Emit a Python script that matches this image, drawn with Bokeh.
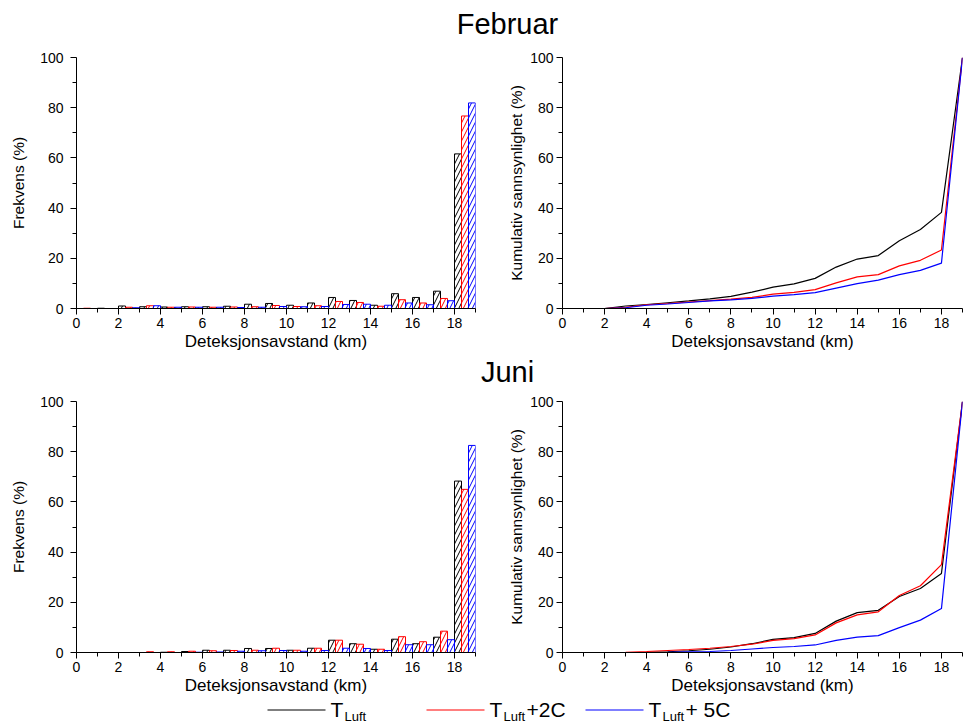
from bokeh.plotting import figure
from bokeh.layouts import column, row
from bokeh.models import Range1d, FixedTicker
from bokeh.embed import file_html
from bokeh.resources import INLINE
from bokeh.core.properties import value

FONT = "Liberation Sans"

# ---------------- data ----------------
bins = list(range(19))          # bin k covers [k, k+1) km
cum_x = list(range(1, 20))      # cumulative curve points

feb_luft = [0.0, 0.1, 1.0, 0.7, 0.6, 0.7, 0.7, 0.9, 1.7, 2.0, 1.3, 2.2, 4.4, 3.2, 1.3, 5.9, 4.4, 6.9, 61.6]
feb_luft2 = [0.1, 0.0, 0.5, 1.1, 0.5, 0.6, 0.5, 0.6, 0.7, 1.2, 0.8, 1.1, 2.8, 2.4, 0.9, 3.5, 2.2, 4.0, 76.7]
feb_luft5 = [0.0, 0.0, 0.3, 1.1, 0.5, 0.5, 0.5, 0.4, 0.5, 0.8, 0.7, 0.8, 1.6, 1.7, 1.3, 2.2, 1.5, 3.1, 81.9]

jun_luft = [0.0, 0.0, 0.0, 0.0, 0.1, 0.4, 0.9, 0.9, 1.6, 1.6, 0.9, 1.7, 4.9, 3.5, 1.3, 5.3, 3.5, 6.1, 68.3]
jun_luft2 = [0.0, 0.0, 0.0, 0.3, 0.3, 0.5, 0.7, 0.8, 0.9, 1.7, 0.9, 1.7, 4.9, 3.3, 1.3, 6.3, 4.3, 8.5, 65.0]
jun_luft5 = [0.0, 0.0, 0.0, 0.0, 0.0, 0.1, 0.2, 0.5, 0.7, 0.8, 0.5, 0.8, 1.7, 1.6, 0.8, 3.1, 3.1, 5.1, 82.5]

feb_cum_luft = [0.0, 0.0, 1.0, 1.6, 2.3, 3.0, 3.8, 4.8, 6.5, 8.5, 9.8, 12.0, 16.5, 19.7, 21.1, 27.0, 31.5, 38.3, 100.0]
feb_cum_luft2 = [0.0, 0.0, 0.5, 1.5, 2.0, 2.6, 3.1, 3.7, 4.4, 5.7, 6.4, 7.5, 10.2, 12.6, 13.5, 17.0, 19.2, 23.3, 100.0]
feb_cum_luft5 = [0.0, 0.0, 0.3, 1.3, 1.8, 2.4, 3.0, 3.4, 4.0, 4.9, 5.5, 6.3, 8.1, 9.9, 11.3, 13.5, 15.2, 18.1, 100.0]

jun_cum_luft = [0.0, 0.0, 0.0, 0.1, 0.3, 0.7, 1.3, 2.2, 3.5, 5.2, 5.9, 7.6, 12.5, 15.9, 16.8, 22.3, 25.5, 31.5, 100.0]
jun_cum_luft2 = [0.0, 0.0, 0.1, 0.4, 0.8, 1.2, 1.7, 2.4, 3.3, 4.8, 5.5, 7.0, 11.8, 15.0, 16.2, 22.7, 26.6, 35.0, 100.0]
jun_cum_luft5 = [0.0, 0.0, 0.0, 0.0, 0.1, 0.3, 0.4, 0.8, 1.4, 2.0, 2.4, 3.0, 4.8, 6.1, 6.7, 9.9, 12.9, 17.5, 100.0]

x_major = [0, 2, 4, 6, 8, 10, 12, 14, 16, 18]
x_minor = [1, 3, 5, 7, 9, 11, 13, 15, 17, 19]
y_major = [0, 20, 40, 60, 80, 100]
y_minor = [10, 30, 50, 70, 90]

series_colors = ["black", "red", "blue"]
legend_colors = ["#555555", "#ff5555", "#5555ff"]
x_label = "Deteksjonsavstand (km)"


def base_fig(width, height, left, right, top, bottom, ylabel, ytick_standoff, ylab_standoff):
    p = figure(width=width, height=height, x_range=Range1d(0, 19), y_range=Range1d(0, 100),
               toolbar_location=None, output_backend="svg", title=None,
               min_border_left=left, min_border_right=right,
               min_border_top=top, min_border_bottom=bottom)
    p.outline_line_color = None
    p.grid.visible = False
    p.xaxis.ticker = FixedTicker(ticks=x_major, minor_ticks=x_minor)
    p.yaxis.ticker = FixedTicker(ticks=y_major, minor_ticks=y_minor)
    for ax in (p.xaxis[0], p.yaxis[0]):
        ax.axis_line_color = "black"
        ax.major_tick_line_color = "black"
        ax.minor_tick_line_color = "black"
        ax.major_tick_in = 0
        ax.major_tick_out = 6
        ax.minor_tick_in = 0
        ax.minor_tick_out = 4
        ax.major_label_text_font = FONT
        ax.major_label_text_font_size = "14px"
        ax.major_label_text_color = "black"
        ax.major_label_standoff = 3
        ax.axis_label_text_font = FONT
        ax.axis_label_text_font_style = "normal"
        ax.axis_label_text_color = "black"
    p.yaxis.major_label_standoff = ytick_standoff
    p.xaxis.axis_label = x_label
    p.xaxis.axis_label_text_font_size = "17px"
    p.xaxis.axis_label_standoff = 1
    p.yaxis.axis_label = ylabel
    p.yaxis.axis_label_text_font_size = "15.5px"
    p.yaxis.axis_label_standoff = ylab_standoff
    return p


def bar_panel(vals, height, top, bottom):
    p = base_fig(490, height, 76, 15, top, bottom, "Frekvens (%)", 7, 10)
    w = 1.0 / 3.0
    for i, (v, c) in enumerate(zip(vals, series_colors)):
        xs = [b + w * (i + 0.5) for b in bins]
        p.vbar(x=xs, top=v, bottom=0, width=w, fill_color=None, line_color=c, line_width=1,
               hatch_pattern="/", hatch_color=c, hatch_scale=9, hatch_weight=1)
    return p


def cum_panel(vals, height, top, bottom):
    p = base_fig(474, height, 72, 2, top, bottom, "Kumulativ sannsynlighet (%)", 3, 2)
    for v, c in zip(vals, series_colors):
        p.line(x=cum_x, y=v, line_color=c, line_width=1.2)
    return p


def strip_fig(h):
    p = figure(width=964, height=h, x_range=Range1d(0, 964), y_range=Range1d(0, h),
               toolbar_location=None, output_backend="svg", min_border=0, title=None)
    p.axis.visible = False
    p.grid.visible = False
    p.outline_line_color = None
    return p


def title_fig(text, h, mid_y, size):
    p = strip_fig(h)
    p.text(x=[507], y=[mid_y], text=[text], text_align="center", text_baseline="middle",
           text_font=value(FONT), text_font_size=size, text_color="black")
    return p


t_feb = title_fig("Februar", 40, 17, "29px")
f1 = bar_panel([feb_luft, feb_luft2, feb_luft5], 314, 17, 46)
f2 = cum_panel([feb_cum_luft, feb_cum_luft2, feb_cum_luft5], 314, 17, 46)
t_jun = title_fig("Juni", 39, 21.5, "29px")
f3 = bar_panel([jun_luft, jun_luft2, jun_luft5], 305, 8, 46)
f4 = cum_panel([jun_cum_luft, jun_cum_luft2, jun_cum_luft5], 305, 8, 46)

# legend strip
LH = 26
leg = strip_fig(LH)
leg_line_x0 = [267, 426, 585]
leg_t_x = [330, 489, 648]
leg_suffix = ["", "+2C", " + 5C"]
for x0, tx, c, suf in zip(leg_line_x0, leg_t_x, legend_colors, leg_suffix):
    leg.line(x=[x0, x0 + 58], y=[14.5, 14.5], line_color=c, line_width=1.5)
    leg.text(x=[tx], y=[15], text=["T"], text_font=value(FONT), text_font_size="21px",
             text_baseline="middle", text_color="black")
    leg.text(x=[tx + 14], y=[8], text=["Luft"], text_font=value(FONT), text_font_size="13px",
             text_baseline="middle", text_color="black")
    if suf:
        leg.text(x=[tx + 37], y=[15], text=[suf], text_font=value(FONT), text_font_size="21px",
                 text_baseline="middle", text_color="black")

layout = column(t_feb, row(f1, f2), t_jun, row(f3, f4), leg)

open("out.html", "w").write(file_html(layout, INLINE))
